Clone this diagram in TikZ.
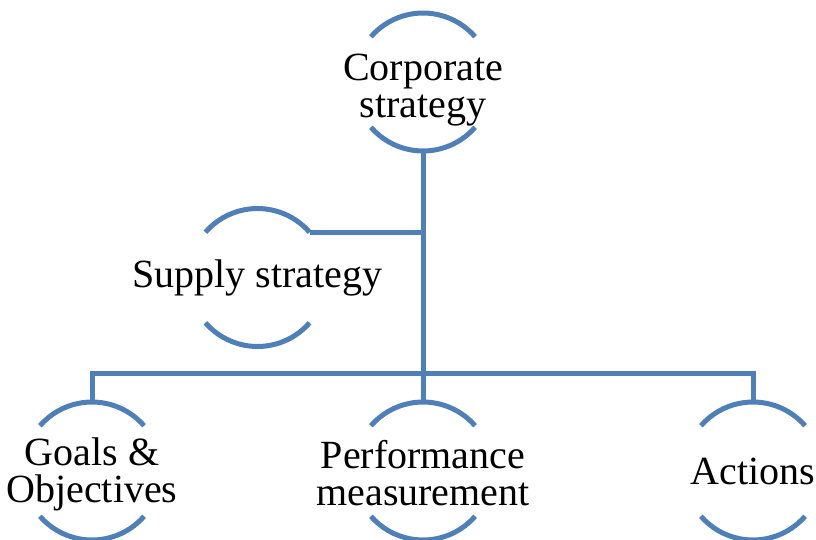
\documentclass[tikz,border=0pt]{standalone}
\usepackage{fontspec}
\setmainfont{Liberation Serif}
\definecolor{ringblue}{HTML}{4E7FB7}
\begin{document}
\begin{tikzpicture}[x=1pt,y=1pt,
  ring/.style={circle, minimum size=138pt, inner sep=0pt, outer sep=0pt},
  arcline/.style={draw=ringblue, line width=5pt},
  conn/.style={draw=ringblue, line width=5pt},
  txt/.style={align=center, inner sep=0pt, font=\fontsize{40}{37}\selectfont}]
\useasboundingbox (0,0) rectangle (816,-539);
\node[ring] (corp) at (423,-82) {};
\node[ring] (supply) at (257.5,-277.5) {};
\node[ring] (goals) at (92,-471) {};
\node[ring] (perf) at (423,-471) {};
\node[ring] (act) at (753,-471) {};
\node[txt] (tcorp) at ([yshift=-8pt]corp.center) {Corporate\\strategy};
\node[txt] (tsupply) at (supply.center) {Supply strategy};
\node[txt] (tgoals) at ([yshift=-3pt]goals.center) {Goals \&\\Objectives};
\node[txt] (tperf) at ([yshift=-2pt]perf.center) {Performance\\measurement};
\node[txt] (tact) at (act.center) {Actions};
\foreach \n in {corp,supply,goals,perf,act}{
  \draw[arcline] (\n.41) arc[start angle=41, end angle=139, radius=69pt];
  \draw[arcline] (\n.-41) arc[start angle=-41, end angle=-139, radius=69pt];
}
\coordinate (bus) at (423,-373);
\draw[conn] (corp.south) -- (perf.north);
\draw[conn] (supply.41) -- (supply.41 -| corp.south);
\draw[conn] (goals.north) |- (bus) -| (act.north);
\end{tikzpicture}
\end{document}
